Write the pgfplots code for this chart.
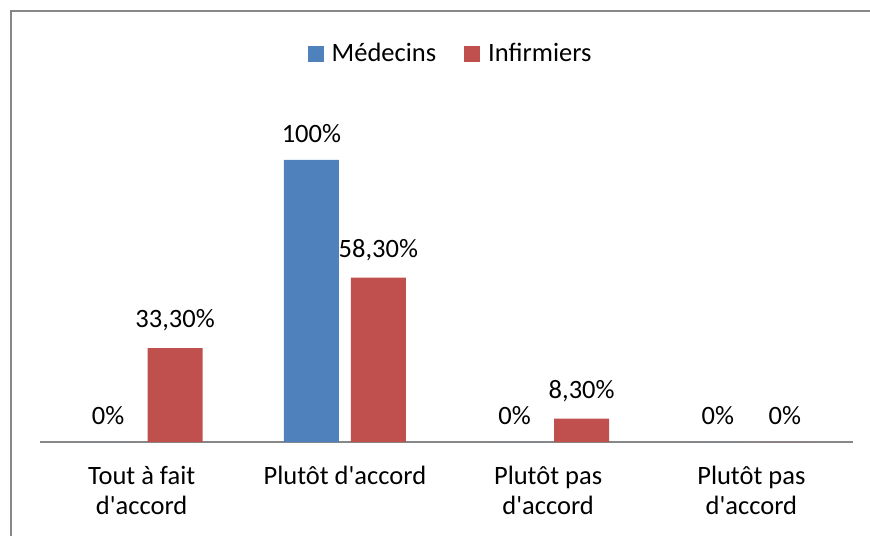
\documentclass[border=0pt]{standalone}
\usepackage{fontspec}
\setmainfont{Carlito}
\usepackage{pgfplots}
\pgfplotsset{compat=1.18}
\definecolor{med}{HTML}{4F81BD}
\definecolor{inf}{HTML}{C0504D}
\definecolor{framec}{HTML}{878787}
\newcommand\f{\fontsize{26.5bp}{30bp}\selectfont}
\newcommand\q{\textquotesingle}
\begin{document}
\f
\begin{tikzpicture}
\begin{axis}[
  anchor=south west,
  scale only axis, width=813bp, height=338.4bp,
  xmin=-0.5, xmax=3.5, ymin=0, ymax=120,
  axis x line=bottom, axis y line=none,
  x axis line style={framec, line width=1.5bp, -},
  ybar=12bp, bar width=55bp,
  xtick=data, ytick=\empty,
  xticklabels={{Tout à fait\\d\q accord},{Plutôt d\q accord},{Plutôt pas\\d\q accord},{Plutôt pas\\d\q accord}},
  major tick length=0pt,
  x tick label style={font=\f, align=center, anchor=north, inner sep=0pt, yshift=-24bp},
  point meta=explicit symbolic,
  nodes near coords,
  every node near coord/.append style={font=\f, anchor=south, inner sep=0pt, yshift=17bp, text=black},
  legend columns=2,
  legend style={draw=none, fill=none, at={(0.505,1.146)}, anchor=center, font=\f,
    /tikz/every odd column/.append style={column sep=6bp},
    /tikz/every even column/.append style={column sep=26bp}},
  legend image code/.code={\fill[#1] (0bp,-8bp) rectangle (16bp,8bp);},
]
\addplot[fill=med, draw=none] coordinates {(0,0) [0\%] (1,100) [100\%] (2,0) [0\%] (3,0) [0\%]};
\addlegendentry{Médecins}
\addplot[fill=inf, draw=none] coordinates {(0,33.3) [33,30\%] (1,58.3) [58,30\%] (2,8.3) [8,30\%] (3,0) [0\%]};
\addlegendentry{Infirmiers}
\end{axis}
\draw[framec, line width=2bp] (-29bp,-120bp) -- (-29bp,430.5bp) -- (860bp,430.5bp);
\pgfresetboundingbox
\useasboundingbox (-40bp,-94bp) rectangle (830bp,442bp);
\end{tikzpicture}
\end{document}
